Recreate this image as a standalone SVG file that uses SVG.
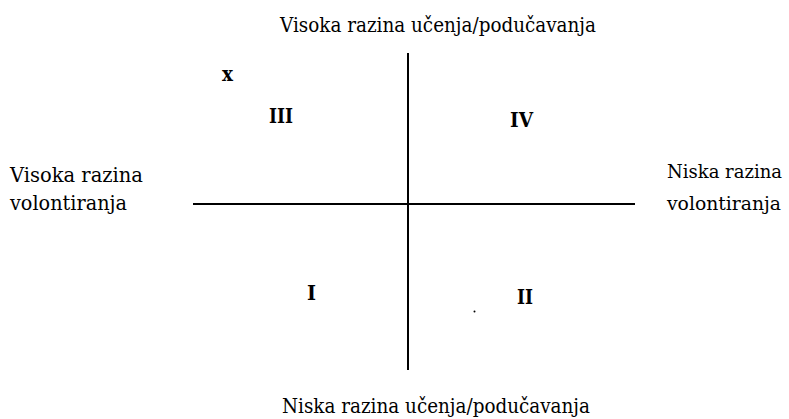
<svg xmlns="http://www.w3.org/2000/svg" width="789" height="419" viewBox="0 0 789 419">
<style>
.lbl{font-family:'DejaVu Serif','Liberation Serif',serif;font-size:20px;fill:#000}
.sm{font-size:18px}
.num{font-family:'DejaVu Serif','Liberation Serif',serif;font-size:21px;font-weight:bold;fill:#000}
.axis{stroke:#000;stroke-width:2;fill:none}
</style>
<rect width="789" height="419" fill="#fff"/>
<g id="connectors">
<line class="axis" x1="408" y1="53" x2="408" y2="370"/>
<line class="axis" x1="193" y1="204" x2="635" y2="204"/>
</g>
<g id="top-label"><text class="lbl" x="280" y="32" textLength="316" lengthAdjust="spacingAndGlyphs">Visoka razina učenja/podučavanja</text></g>
<g id="bottom-label"><text class="lbl" x="282" y="413" textLength="308" lengthAdjust="spacingAndGlyphs">Niska razina učenja/podučavanja</text></g>
<g id="left-label">
<text class="lbl" x="10" y="182" textLength="133" lengthAdjust="spacingAndGlyphs">Visoka razina</text>
<text class="lbl" x="10" y="210" textLength="117" lengthAdjust="spacingAndGlyphs">volontiranja</text>
</g>
<g id="right-label">
<text class="lbl sm" x="667" y="178" textLength="115" lengthAdjust="spacingAndGlyphs">Niska razina</text>
<text class="lbl sm" x="667" y="210" textLength="114" lengthAdjust="spacingAndGlyphs">volontiranja</text>
</g>
<g id="mark-x"><text class="num" x="222" y="81" textLength="11" lengthAdjust="spacingAndGlyphs">x</text></g>
<g id="q3"><text class="num" x="269" y="123" textLength="24" lengthAdjust="spacingAndGlyphs">III</text></g>
<g id="q4"><text class="num" x="510" y="127" textLength="23" lengthAdjust="spacingAndGlyphs">IV</text></g>
<g id="q1"><text class="num" x="307" y="300" textLength="9" lengthAdjust="spacingAndGlyphs">I</text></g>
<g id="q2"><text class="num" x="517" y="304" textLength="16" lengthAdjust="spacingAndGlyphs">II</text></g>
<g id="dot"><circle cx="474.5" cy="311.5" r="1" fill="#000"/></g>
</svg>
